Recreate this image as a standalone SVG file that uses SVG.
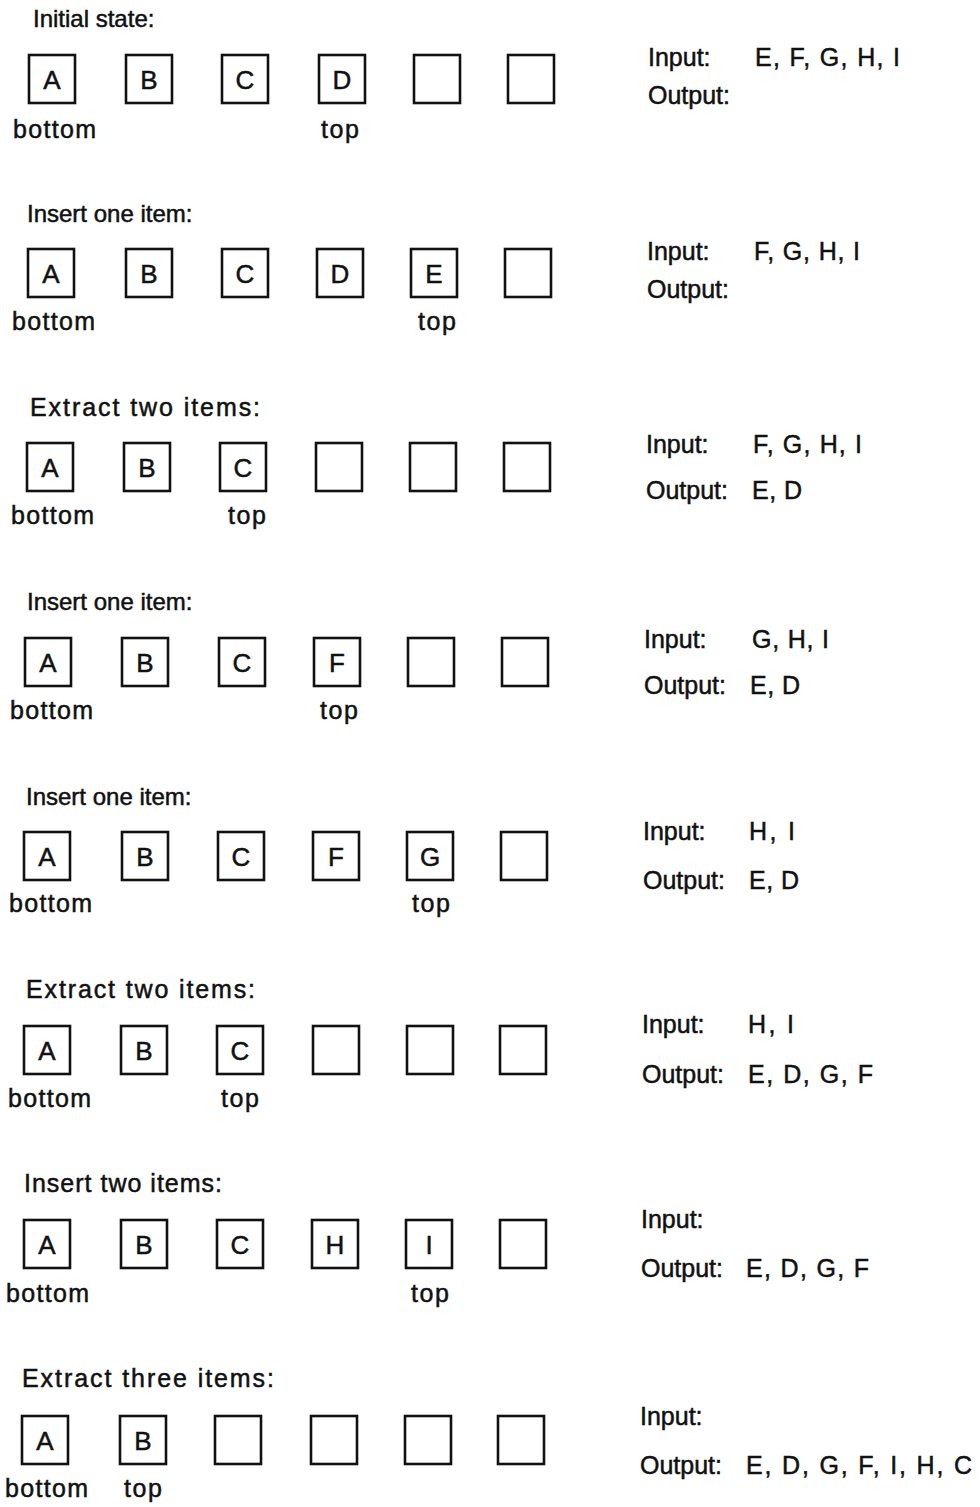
<svg xmlns="http://www.w3.org/2000/svg" width="980" height="1507" viewBox="0 0 980 1507">
<style>
.bg{fill:#fff}
.box{fill:none;stroke:#111;stroke-width:2.6}
.t{font-family:"Liberation Sans",Arial,sans-serif;font-size:25px;fill:#111;stroke:#111;stroke-width:0.5}
.h{font-size:24px}
.c{text-anchor:middle;font-size:26px}
</style>
<rect class="bg" x="0" y="0" width="980" height="1507"/>
<g id="connectors"/>

<g id="row1">
<text class="t h" x="33" y="27">Initial state:</text>
<g id="r1b1"><rect class="box" x="29" y="55" width="46" height="48"/><text class="t c" x="52" y="89">A</text></g>
<g id="r1b2"><rect class="box" x="126" y="55" width="46" height="48"/><text class="t c" x="149" y="89">B</text></g>
<g id="r1b3"><rect class="box" x="222" y="55" width="46" height="48"/><text class="t c" x="245" y="89">C</text></g>
<g id="r1b4"><rect class="box" x="319" y="55" width="46" height="48"/><text class="t c" x="342" y="89">D</text></g>
<g id="r1b5"><rect class="box" x="414" y="55" width="46" height="48"/></g>
<g id="r1b6"><rect class="box" x="508" y="55" width="46" height="48"/></g>
<text class="t" x="13" y="138" textLength="83" lengthAdjust="spacing">bottom</text>
<text class="t" x="321" y="138" textLength="38" lengthAdjust="spacing">top</text>
<text class="t" x="648" y="66">Input:</text><text class="t" x="755" y="66" textLength="145" lengthAdjust="spacing">E, F, G, H, I</text>
<text class="t" x="648" y="104">Output:</text>
</g>

<g id="row2">
<text class="t h" x="27" y="222">Insert one item:</text>
<g id="r2b1"><rect class="box" x="28" y="249" width="46" height="48"/><text class="t c" x="51" y="283">A</text></g>
<g id="r2b2"><rect class="box" x="126" y="249" width="46" height="48"/><text class="t c" x="149" y="283">B</text></g>
<g id="r2b3"><rect class="box" x="222" y="249" width="46" height="48"/><text class="t c" x="245" y="283">C</text></g>
<g id="r2b4"><rect class="box" x="317" y="249" width="46" height="48"/><text class="t c" x="340" y="283">D</text></g>
<g id="r2b5"><rect class="box" x="411" y="249" width="46" height="48"/><text class="t c" x="434" y="283">E</text></g>
<g id="r2b6"><rect class="box" x="505" y="249" width="46" height="48"/></g>
<text class="t" x="12" y="330" textLength="83" lengthAdjust="spacing">bottom</text>
<text class="t" x="418" y="330" textLength="38" lengthAdjust="spacing">top</text>
<text class="t" x="647" y="260">Input:</text><text class="t" x="754" y="260" textLength="106" lengthAdjust="spacing">F, G, H, I</text>
<text class="t" x="647" y="298">Output:</text>
</g>

<g id="row3">
<text class="t" x="30" y="416" textLength="230" lengthAdjust="spacing">Extract two items:</text>
<g id="r3b1"><rect class="box" x="27" y="443" width="46" height="48"/><text class="t c" x="50" y="477">A</text></g>
<g id="r3b2"><rect class="box" x="124" y="443" width="46" height="48"/><text class="t c" x="147" y="477">B</text></g>
<g id="r3b3"><rect class="box" x="220" y="443" width="46" height="48"/><text class="t c" x="243" y="477">C</text></g>
<g id="r3b4"><rect class="box" x="316" y="443" width="46" height="48"/></g>
<g id="r3b5"><rect class="box" x="410" y="443" width="46" height="48"/></g>
<g id="r3b6"><rect class="box" x="504" y="443" width="46" height="48"/></g>
<text class="t" x="11" y="524" textLength="83" lengthAdjust="spacing">bottom</text>
<text class="t" x="228" y="524" textLength="38" lengthAdjust="spacing">top</text>
<text class="t" x="646" y="453">Input:</text><text class="t" x="753" y="453" textLength="109" lengthAdjust="spacing">F, G, H, I</text>
<text class="t" x="646" y="499">Output:</text><text class="t" x="752" y="499" textLength="50" lengthAdjust="spacing">E, D</text>
</g>

<g id="row4">
<text class="t h" x="27" y="610">Insert one item:</text>
<g id="r4b1"><rect class="box" x="25" y="638" width="46" height="48"/><text class="t c" x="48" y="672">A</text></g>
<g id="r4b2"><rect class="box" x="122" y="638" width="46" height="48"/><text class="t c" x="145" y="672">B</text></g>
<g id="r4b3"><rect class="box" x="219" y="638" width="46" height="48"/><text class="t c" x="242" y="672">C</text></g>
<g id="r4b4"><rect class="box" x="314" y="638" width="46" height="48"/><text class="t c" x="337" y="672">F</text></g>
<g id="r4b5"><rect class="box" x="408" y="638" width="46" height="48"/></g>
<g id="r4b6"><rect class="box" x="502" y="638" width="46" height="48"/></g>
<text class="t" x="10" y="719" textLength="83" lengthAdjust="spacing">bottom</text>
<text class="t" x="320" y="719" textLength="38" lengthAdjust="spacing">top</text>
<text class="t" x="644" y="648">Input:</text><text class="t" x="752" y="648" textLength="77" lengthAdjust="spacing">G, H, I</text>
<text class="t" x="644" y="694">Output:</text><text class="t" x="750" y="694" textLength="50" lengthAdjust="spacing">E, D</text>
</g>

<g id="row5">
<text class="t h" x="26" y="805">Insert one item:</text>
<g id="r5b1"><rect class="box" x="24" y="832" width="46" height="48"/><text class="t c" x="47" y="866">A</text></g>
<g id="r5b2"><rect class="box" x="122" y="832" width="46" height="48"/><text class="t c" x="145" y="866">B</text></g>
<g id="r5b3"><rect class="box" x="218" y="832" width="46" height="48"/><text class="t c" x="241" y="866">C</text></g>
<g id="r5b4"><rect class="box" x="313" y="832" width="46" height="48"/><text class="t c" x="336" y="866">F</text></g>
<g id="r5b5"><rect class="box" x="407" y="832" width="46" height="48"/><text class="t c" x="430" y="866">G</text></g>
<g id="r5b6"><rect class="box" x="501" y="832" width="46" height="48"/></g>
<text class="t" x="9" y="912" textLength="83" lengthAdjust="spacing">bottom</text>
<text class="t" x="412" y="912" textLength="38" lengthAdjust="spacing">top</text>
<text class="t" x="643" y="840">Input:</text><text class="t" x="749" y="840" textLength="46" lengthAdjust="spacing">H, I</text>
<text class="t" x="643" y="889">Output:</text><text class="t" x="749" y="889" textLength="50" lengthAdjust="spacing">E, D</text>
</g>

<g id="row6">
<text class="t" x="26" y="998" textLength="229" lengthAdjust="spacing">Extract two items:</text>
<g id="r6b1"><rect class="box" x="24" y="1026" width="46" height="48"/><text class="t c" x="47" y="1060">A</text></g>
<g id="r6b2"><rect class="box" x="121" y="1026" width="46" height="48"/><text class="t c" x="144" y="1060">B</text></g>
<g id="r6b3"><rect class="box" x="217" y="1026" width="46" height="48"/><text class="t c" x="240" y="1060">C</text></g>
<g id="r6b4"><rect class="box" x="313" y="1026" width="46" height="48"/></g>
<g id="r6b5"><rect class="box" x="407" y="1026" width="46" height="48"/></g>
<g id="r6b6"><rect class="box" x="500" y="1026" width="46" height="48"/></g>
<text class="t" x="8" y="1107" textLength="83" lengthAdjust="spacing">bottom</text>
<text class="t" x="221" y="1107" textLength="38" lengthAdjust="spacing">top</text>
<text class="t" x="642" y="1033">Input:</text><text class="t" x="748" y="1033" textLength="46" lengthAdjust="spacing">H, I</text>
<text class="t" x="642" y="1083">Output:</text><text class="t" x="748" y="1083" textLength="125" lengthAdjust="spacing">E, D, G, F</text>
</g>

<g id="row7">
<text class="t" x="24" y="1192" textLength="198" lengthAdjust="spacing">Insert two items:</text>
<g id="r7b1"><rect class="box" x="24" y="1220" width="46" height="48"/><text class="t c" x="47" y="1254">A</text></g>
<g id="r7b2"><rect class="box" x="121" y="1220" width="46" height="48"/><text class="t c" x="144" y="1254">B</text></g>
<g id="r7b3"><rect class="box" x="217" y="1220" width="46" height="48"/><text class="t c" x="240" y="1254">C</text></g>
<g id="r7b4"><rect class="box" x="312" y="1220" width="46" height="48"/><text class="t c" x="335" y="1254">H</text></g>
<g id="r7b5"><rect class="box" x="406" y="1220" width="46" height="48"/><text class="t c" x="429" y="1254">I</text></g>
<g id="r7b6"><rect class="box" x="500" y="1220" width="46" height="48"/></g>
<text class="t" x="6" y="1302" textLength="83" lengthAdjust="spacing">bottom</text>
<text class="t" x="411" y="1302" textLength="38" lengthAdjust="spacing">top</text>
<text class="t" x="641" y="1228">Input:</text>
<text class="t" x="641" y="1277">Output:</text><text class="t" x="746" y="1277" textLength="123" lengthAdjust="spacing">E, D, G, F</text>
</g>

<g id="row8">
<text class="t" x="22" y="1387" textLength="252" lengthAdjust="spacing">Extract three items:</text>
<g id="r8b1"><rect class="box" x="22" y="1416" width="46" height="48"/><text class="t c" x="45" y="1450">A</text></g>
<g id="r8b2"><rect class="box" x="120" y="1416" width="46" height="48"/><text class="t c" x="143" y="1450">B</text></g>
<g id="r8b3"><rect class="box" x="215" y="1416" width="46" height="48"/></g>
<g id="r8b4"><rect class="box" x="311" y="1416" width="46" height="48"/></g>
<g id="r8b5"><rect class="box" x="405" y="1416" width="46" height="48"/></g>
<g id="r8b6"><rect class="box" x="498" y="1416" width="46" height="48"/></g>
<text class="t" x="5" y="1497" textLength="83" lengthAdjust="spacing">bottom</text>
<text class="t" x="124" y="1497" textLength="38" lengthAdjust="spacing">top</text>
<text class="t" x="640" y="1425">Input:</text>
<text class="t" x="640" y="1474">Output:</text><text class="t" x="746" y="1474" textLength="226" lengthAdjust="spacing">E, D, G, F, I, H, C</text>
</g>
</svg>
